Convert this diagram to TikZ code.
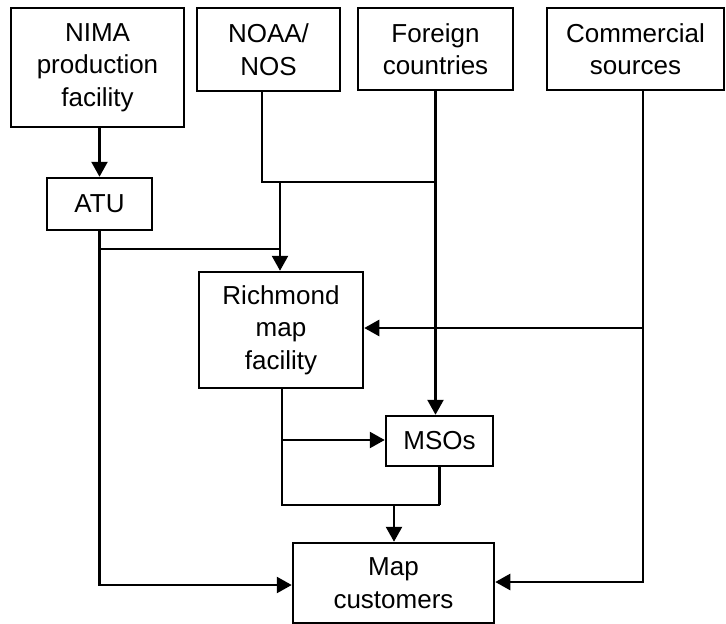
\documentclass[tikz,border=0pt]{standalone}
\usepackage{fontspec}
\setmainfont{Liberation Sans}
\usetikzlibrary{arrows.meta}
\begin{document}
\begin{tikzpicture}[x=1pt,y=-1pt,
  box/.style={draw,line width=2.5pt,rectangle,inner sep=0pt,align=center,
    font=\fontsize{26}{32.5}\selectfont},
  conn/.style={line width=2.5pt},
  arr/.style={line width=2.5pt,-{Triangle[length=15pt,width=16pt]}}]
\useasboundingbox[fill=white] (0,0) rectangle (726,624);
\node[box,minimum width=173pt,minimum height=119pt] (nima) at (97.5,67.5) {NIMA\\production\\facility};
\node[box,minimum width=143pt,minimum height=83pt] (noaa) at (268.5,49.5) {NOAA/\\NOS};
\node[box,minimum width=155pt,minimum height=82pt] (foreign) at (435.5,49) {Foreign\\countries};
\node[box,minimum width=177pt,minimum height=82pt] (comm) at (635.5,49) {Commercial\\sources};
\node[box,minimum width=105pt,minimum height=52pt] (atu) at (99.5,204) {ATU};
\node[box,minimum width=164pt,minimum height=116pt] (rich) at (281,330) {Richmond\\map\\facility};
\node[box,minimum width=107pt,minimum height=50pt] (mso) at (439.5,441) {MSOs};
\node[box,minimum width=201pt,minimum height=80pt] (cust) at (393.5,583) {Map\\customers};

\coordinate (j1) at (280,182);
\coordinate (j2) at (280,249);
\coordinate (j3) at (282,440);
\coordinate (j4) at (394,505);
\draw[arr] (nima.south -| atu.north) -- (atu.north);
\draw[conn] (noaa.south -| 262,0) |- (j1 -| foreign.south);
\draw[arr] (j1) -- (j1 |- rich.north);
\draw[conn] (atu.south) |- (j2);
\draw[arr] (atu.south) |- (cust.west |- 0,585);
\draw[arr] (foreign.south) -- (foreign.south |- mso.north);
\draw[arr] (comm.south -| 643,0) |- (rich.east |- 0,328);
\draw[arr] (comm.south -| 643,0) |- (cust.east |- 0,582);
\draw[conn] (rich.south -| j3) |- (mso.south |- j4);
\draw[conn] (mso.south) -- (mso.south |- j4);
\draw[arr] (j3) -- (mso.west |- j3);
\draw[arr] (j4) -- (j4 |- cust.north);
\end{tikzpicture}
\end{document}
